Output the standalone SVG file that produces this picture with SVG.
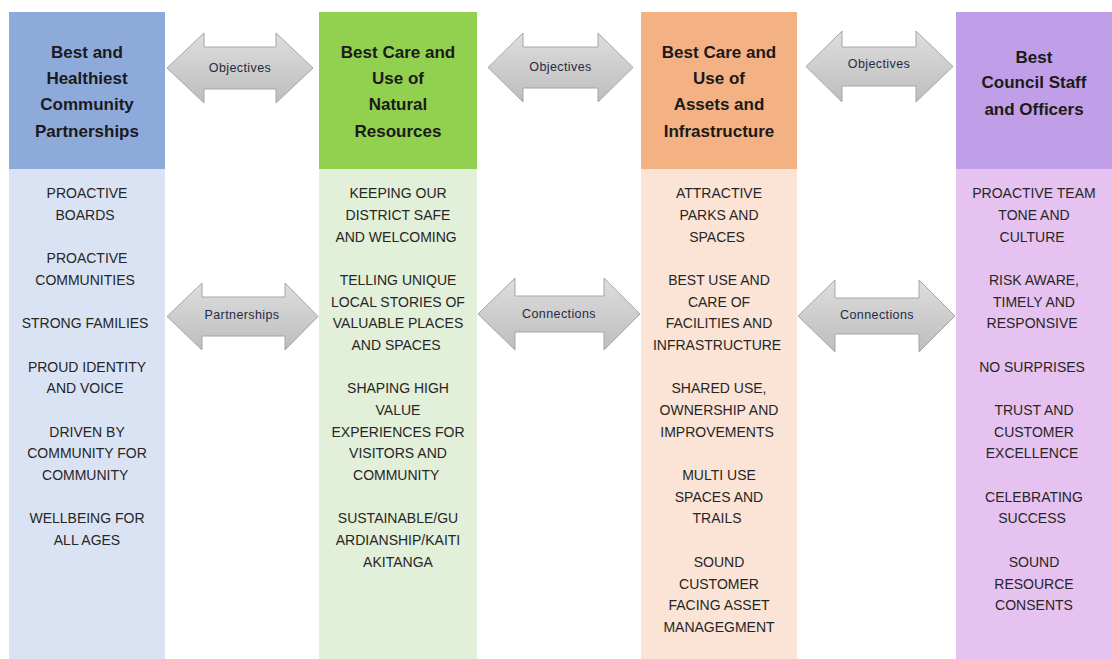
<svg xmlns="http://www.w3.org/2000/svg" width="1112" height="659" viewBox="0 0 1112 659">
<defs>
<linearGradient id="ag" x1="0" y1="0" x2="0" y2="1">
<stop offset="0" stop-color="#dedede"/>
<stop offset="1" stop-color="#bdbdbd"/>
</linearGradient>
<style>
.hd{font-family:"Liberation Sans",Arial,sans-serif;font-weight:bold;font-size:17px;fill:#1a1a1a;text-anchor:middle}
.bd{font-family:"Liberation Sans",Arial,sans-serif;font-size:14px;fill:#262626;text-anchor:middle}
.al{font-family:"Liberation Sans",Arial,sans-serif;font-size:12.5px;fill:#1f2a44;text-anchor:middle;letter-spacing:0.4px}
.arr{fill:url(#ag);stroke:#a6a6a6;stroke-width:1}
</style>
</defs>
<rect width="1112" height="659" fill="#ffffff"/>

<g id="col1">
<rect x="9" y="12" width="156" height="157" fill="#8eaadb"/>
<rect x="9" y="169" width="156" height="490" fill="#dae3f3"/>
<text class="hd"><tspan x="87" y="58">Best and</tspan><tspan x="87" y="84">Healthiest</tspan><tspan x="87" y="110">Community</tspan><tspan x="87" y="137">Partnerships</tspan></text>
<text class="bd">
<tspan x="87" y="198">PROACTIVE</tspan><tspan x="87" y="220">BOARDS</tspan>
<tspan x="87" y="263">PROACTIVE</tspan><tspan x="87" y="285">COMMUNITIES</tspan>
<tspan x="87" y="328">STRONG FAMILIES</tspan>
<tspan x="87" y="372">PROUD IDENTITY</tspan><tspan x="87" y="393">AND VOICE</tspan>
<tspan x="87" y="437">DRIVEN BY</tspan><tspan x="87" y="458">COMMUNITY FOR</tspan><tspan x="87" y="480">COMMUNITY</tspan>
<tspan x="87" y="523">WELLBEING FOR</tspan><tspan x="87" y="545">ALL AGES</tspan>
</text>
</g>

<g id="col2">
<rect x="319" y="12" width="158" height="157" fill="#92d050"/>
<rect x="319" y="169" width="158" height="490" fill="#e2efd9"/>
<text class="hd"><tspan x="398" y="58">Best Care and</tspan><tspan x="398" y="84">Use of</tspan><tspan x="398" y="110">Natural</tspan><tspan x="398" y="137">Resources</tspan></text>
<text class="bd">
<tspan x="398" y="198">KEEPING OUR</tspan><tspan x="398" y="220">DISTRICT SAFE</tspan><tspan x="398" y="242">AND WELCOMING</tspan>
<tspan x="398" y="285">TELLING UNIQUE</tspan><tspan x="398" y="307">LOCAL STORIES OF</tspan><tspan x="398" y="328">VALUABLE PLACES</tspan><tspan x="398" y="350">AND SPACES</tspan>
<tspan x="398" y="393">SHAPING HIGH</tspan><tspan x="398" y="415">VALUE</tspan><tspan x="398" y="437">EXPERIENCES FOR</tspan><tspan x="398" y="458">VISITORS AND</tspan><tspan x="398" y="480">COMMUNITY</tspan>
<tspan x="398" y="523">SUSTAINABLE/GU</tspan><tspan x="398" y="545">ARDIANSHIP/KAITI</tspan><tspan x="398" y="567">AKITANGA</tspan>
</text>
</g>

<g id="col3">
<rect x="641" y="12" width="156" height="157" fill="#f4b183"/>
<rect x="641" y="169" width="156" height="490" fill="#fbe4d5"/>
<text class="hd"><tspan x="719" y="58">Best Care and</tspan><tspan x="719" y="84">Use of</tspan><tspan x="719" y="110">Assets and</tspan><tspan x="719" y="137">Infrastructure</tspan></text>
<text class="bd">
<tspan x="719" y="198">ATTRACTIVE</tspan><tspan x="719" y="220">PARKS AND</tspan><tspan x="719" y="242">SPACES</tspan>
<tspan x="719" y="285">BEST USE AND</tspan><tspan x="719" y="307">CARE OF</tspan><tspan x="719" y="328">FACILITIES AND</tspan><tspan x="719" y="350">INFRASTRUCTURE</tspan>
<tspan x="719" y="393">SHARED USE,</tspan><tspan x="719" y="415">OWNERSHIP AND</tspan><tspan x="719" y="437">IMPROVEMENTS</tspan>
<tspan x="719" y="480">MULTI USE</tspan><tspan x="719" y="502">SPACES AND</tspan><tspan x="719" y="523">TRAILS</tspan>
<tspan x="719" y="567">SOUND</tspan><tspan x="719" y="589">CUSTOMER</tspan><tspan x="719" y="610">FACING ASSET</tspan><tspan x="719" y="632">MANAGEGMENT</tspan>
</text>
</g>

<g id="col4">
<rect x="956" y="12" width="156" height="157" fill="#c09ee8"/>
<rect x="956" y="169" width="156" height="490" fill="#e6c2f0"/>
<text class="hd"><tspan x="1034" y="63">Best</tspan><tspan x="1034" y="88">Council Staff</tspan><tspan x="1034" y="115">and Officers</tspan></text>
<text class="bd">
<tspan x="1034" y="198">PROACTIVE TEAM</tspan><tspan x="1034" y="220">TONE AND</tspan><tspan x="1034" y="242">CULTURE</tspan>
<tspan x="1034" y="285">RISK AWARE,</tspan><tspan x="1034" y="307">TIMELY AND</tspan><tspan x="1034" y="328">RESPONSIVE</tspan>
<tspan x="1034" y="372">NO SURPRISES</tspan>
<tspan x="1034" y="415">TRUST AND</tspan><tspan x="1034" y="437">CUSTOMER</tspan><tspan x="1034" y="458">EXCELLENCE</tspan>
<tspan x="1034" y="502">CELEBRATING</tspan><tspan x="1034" y="523">SUCCESS</tspan>
<tspan x="1034" y="567">SOUND</tspan><tspan x="1034" y="589">RESOURCE</tspan><tspan x="1034" y="610">CONSENTS</tspan>
</text>
</g>

<g id="connectors">
<g id="obj1">
<path class="arr" d="M167,68 L204,33 L204,47 L276,47 L276,33 L313,68 L276,103 L276,89 L204,89 L204,103 Z"/>
<text class="al" x="240" y="72">Objectives</text>
</g>
<g id="obj2">
<path class="arr" d="M488,67.5 L523,33 L523,47 L598,47 L598,33 L633,67.5 L598,102 L598,88 L523,88 L523,102 Z"/>
<text class="al" x="560.5" y="71">Objectives</text>
</g>
<g id="obj3">
<path class="arr" d="M806,66.5 L842,31 L842,47 L916,47 L916,31 L953,66.5 L916,102 L916,86 L842,86 L842,102 Z"/>
<text class="al" x="879" y="68">Objectives</text>
</g>
<g id="part1">
<path class="arr" d="M167,316.5 L202,283 L202,297 L285,297 L285,283 L318,316.5 L285,350 L285,336 L202,336 L202,350 Z"/>
<text class="al" x="242" y="319">Partnerships</text>
</g>
<g id="conn1">
<path class="arr" d="M478,314 L515,278 L515,296 L604,296 L604,278 L640,314 L604,350 L604,332 L515,332 L515,350 Z"/>
<text class="al" x="559" y="318">Connections</text>
</g>
<g id="conn2">
<path class="arr" d="M798,316 L835,280 L835,298 L919,298 L919,280 L955,316 L919,352 L919,334 L835,334 L835,352 Z"/>
<text class="al" x="877" y="319">Connections</text>
</g>
</g>
</svg>
